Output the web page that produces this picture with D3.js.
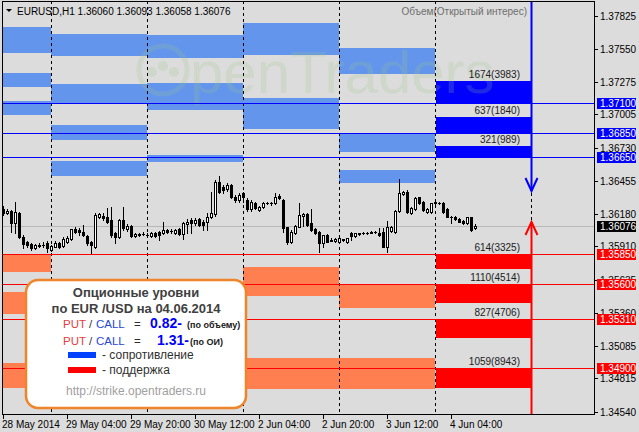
<!DOCTYPE html>
<html><head><meta charset="utf-8">
<script src="https://cdn.jsdelivr.net/npm/d3@7"></script>
<style>body{margin:0;background:#dcdcdc}svg{display:block}text{font-family:"Liberation Sans",Arial,sans-serif}</style>
</head><body><svg id="c" width="639" height="432"></svg>
<script>
// ---------------- DATA ----------------
const symbolTitle = "EURUSD,H1";
const headerOHLC = ["1.36060", "1.36093", "1.36058", "1.36076"];
const indicatorTitle = "Объем(Открытый интерес)";

const barOpen = [1.36218,1.36185,1.36204,1.36102,1.36190,1.35991,1.35949,1.35930,1.35894,1.35919,1.35919,1.35941,1.35880,1.35908,1.35941,1.35913,1.35949,1.35969,1.36052,1.36046,1.36033,1.35997,1.35949,1.35902,1.36157,1.36163,1.36157,1.36129,1.36019,1.35991,1.36129,1.36052,1.36080,1.35997,1.36013,1.36010,1.36008,1.35997,1.36019,1.36033,1.36024,1.36046,1.36041,1.36024,1.36052,1.36013,1.36096,1.36129,1.36102,1.36135,1.36116,1.36116,1.36157,1.36179,1.36448,1.36406,1.36384,1.36420,1.36323,1.36296,1.36357,1.36296,1.36218,1.36274,1.36213,1.36235,1.36274,1.36268,1.36268,1.36329,1.36296,1.36069,1.35949,1.36024,1.36074,1.36163,1.36179,1.36102,1.36052,1.36033,1.35941,1.36005,1.35963,1.35958,1.35949,1.35963,1.35949,1.36024,1.35997,1.36013,1.36019,1.36019,1.36024,1.36027,1.36024,1.36033,1.35908,1.36041,1.36033,1.36207,1.36346,1.36365,1.36185,1.36218,1.36318,1.36282,1.36199,1.36199,1.36274,1.36274,1.36268,1.36218,1.36157,1.36152,1.36135,1.36124,1.36102,1.36152,1.36060];
const barHigh = [1.36246,1.36218,1.36213,1.36276,1.36199,1.36005,1.35958,1.35941,1.35930,1.35936,1.35949,1.35952,1.35919,1.35955,1.35949,1.35991,1.35997,1.36057,1.36074,1.36060,1.36088,1.36005,1.35958,1.36185,1.36190,1.36185,1.36226,1.36240,1.36033,1.36135,1.36240,1.36096,1.36088,1.36024,1.36024,1.36033,1.36019,1.36033,1.36030,1.36041,1.36116,1.36057,1.36055,1.36055,1.36060,1.36116,1.36135,1.36143,1.36143,1.36143,1.36129,1.36190,1.36365,1.36462,1.36495,1.36420,1.36434,1.36429,1.36337,1.36351,1.36365,1.36310,1.36296,1.36282,1.36246,1.36282,1.36282,1.36276,1.36351,1.36346,1.36301,1.36074,1.36046,1.36088,1.36268,1.36190,1.36190,1.36218,1.36060,1.36041,1.36005,1.36013,1.35977,1.35977,1.35977,1.35974,1.35983,1.36033,1.36024,1.36024,1.36030,1.36030,1.36038,1.36038,1.36060,1.36060,1.36124,1.36080,1.36213,1.36467,1.36373,1.36379,1.36235,1.36318,1.36323,1.36290,1.36226,1.36274,1.36282,1.36282,1.36276,1.36226,1.36163,1.36163,1.36143,1.36129,1.36157,1.36157,1.36093];
const barLow = [1.36171,1.36177,1.36033,1.36019,1.35977,1.35894,1.35908,1.35880,1.35886,1.35902,1.35908,1.35866,1.35872,1.35902,1.35897,1.35908,1.35941,1.35963,1.36024,1.36005,1.35997,1.35922,1.35852,1.35894,1.36143,1.36129,1.36102,1.35991,1.35941,1.35977,1.36046,1.36041,1.35991,1.35991,1.35997,1.36002,1.35991,1.35991,1.35991,1.35963,1.36013,1.36019,1.36019,1.36013,1.36002,1.35969,1.36019,1.36019,1.36088,1.36080,1.36046,1.36046,1.36143,1.36163,1.36351,1.36351,1.36373,1.36310,1.36282,1.36282,1.36282,1.36207,1.36207,1.36218,1.36207,1.36226,1.36262,1.36254,1.36262,1.36301,1.36033,1.35930,1.35941,1.36013,1.36069,1.36080,1.36080,1.36038,1.36013,1.35866,1.35908,1.35949,1.35952,1.35949,1.35941,1.35955,1.35941,1.35963,1.35991,1.36005,1.36010,1.36013,1.36019,1.36019,1.35997,1.35902,1.35866,1.36030,1.36024,1.36199,1.36337,1.36190,1.36177,1.36213,1.36262,1.36207,1.36190,1.36190,1.36262,1.36260,1.36190,1.36152,1.36107,1.36129,1.36110,1.36096,1.36096,1.36041,1.36058];
const barClose = [1.36185,1.36207,1.36102,1.36199,1.35991,1.35930,1.35922,1.35900,1.35922,1.35913,1.35925,1.35894,1.35911,1.35941,1.35902,1.35974,1.35977,1.36052,1.36033,1.36030,1.36005,1.35936,1.35922,1.36171,1.36179,1.36143,1.36116,1.36005,1.35991,1.36129,1.36060,1.36080,1.35997,1.36013,1.36005,1.36013,1.36002,1.36019,1.35997,1.36005,1.36046,1.36027,1.36035,1.36046,1.36010,1.36102,1.36116,1.36102,1.36129,1.36088,1.36088,1.36157,1.36185,1.36448,1.36365,1.36379,1.36420,1.36323,1.36296,1.36337,1.36323,1.36218,1.36282,1.36226,1.36240,1.36274,1.36268,1.36274,1.36318,1.36310,1.36060,1.35949,1.36033,1.36080,1.36171,1.36179,1.36088,1.36046,1.36019,1.35941,1.36005,1.35949,1.35958,1.35969,1.35977,1.35969,1.35977,1.35997,1.36019,1.36019,1.36024,1.36024,1.36033,1.36033,1.36005,1.35908,1.36074,1.36069,1.36207,1.36351,1.36365,1.36199,1.36226,1.36310,1.36268,1.36213,1.36218,1.36268,1.36276,1.36268,1.36199,1.36157,1.36152,1.36135,1.36116,1.36102,1.36152,1.36046,1.36076];

const timeTickBars = [0, 16, 32, 48, 64, 80, 96, 112];
const timeTickLabels = ["28 May 2014", "29 May 04:00", "29 May 20:00", "30 May 12:00", "2 Jun 04:00", "2 Jun 20:00", "3 Jun 12:00", "4 Jun 04:00"];
const dayStartBars = [0, 12, 36, 60, 84, 108];
const dayEndBars = [12, 36, 60, 84, 108, 132];
const daySeparatorBars = [12, 36, 60, 84, 108, 132];

const priceTicks = [1.37825, 1.37550, 1.37275, 1.37005, 1.36730, 1.36455, 1.36180, 1.35910, 1.35635, 1.35360, 1.35085, 1.34815, 1.34540];
const currentPrice = 1.36076;

// option levels for the current day
const resistanceStrikes = [1.37100, 1.36850, 1.36650];
const resistanceTops = [1.37280, 1.36985, 1.36745];
const resistanceLabels = ["1674(3983)", "637(1840)", "321(989)"];
const supportStrikes = [1.35850, 1.35600, 1.35310, 1.34900];
const supportBottoms = [1.35720, 1.35443, 1.35147, 1.34732];
const supportLabels = ["614(3325)", "1110(4514)", "827(4706)", "1059(8943)"];

// previous days' zones: [dayIndex, low, high]
const pastResistance = [[0,1.37518,1.37734],[0,1.37236,1.37352],[0,1.37003,1.37120],
  [1,1.37490,1.37673],[1,1.37103,1.37258],[1,1.36793,1.36918],[1,1.36497,1.36619],
  [2,1.37471,1.37665],[2,1.37042,1.37269],[2,1.36613,1.36669],
  [3,1.37499,1.37767],[3,1.36885,1.37142],
  [4,1.37341,1.37557],[4,1.36694,1.36851],[4,1.36436,1.36544]];
const pastSupport = [[0,1.35695,1.35839],[0,1.35347,1.35534],[0,1.34732,1.34945],
  [3,1.35498,1.35739],[3,1.34727,1.34984],
  [4,1.35399,1.35598],[4,1.34727,1.34984]];

const arrowBar = 132;
const resistanceArrowTip = 1.36370;
const supportArrowTip = 1.36112;

const legendTitle = ["Опционные уровни", "по EUR /USD на 04.06.2014"];
const ratioValues = ["0.82-", "1.31-"];
const ratioNotes = ["(по объему)", "(по ОИ)"];
const legendItems = ["- сопротивление", "- поддержка"];
const legendUrl = "http://strike.opentraders.ru";

// ---------------- DRAW ----------------
const W = 639, H = 432;
const plot = {l: 2, r: 594, t: 1, b: 414};
const svg = d3.select("#c");
const x = d3.scaleLinear().domain([0, 1]).range([3, 7]);
const y = d3.scaleLinear().domain([1.34540, 1.37825]).range([411.5, 15.7]);
const yr = v => Math.round(y(v));

svg.append("rect").attr("width", W).attr("height", H).attr("fill", "#dcdcdc");
const defs = svg.append("defs");
defs.append("clipPath").attr("id", "pc").append("rect")
  .attr("x", plot.l).attr("y", plot.t).attr("width", plot.r - plot.l).attr("height", plot.b - plot.t);
const g = svg.append("g").attr("clip-path", "url(#pc)");

// past zones
g.selectAll(".pr").data(pastResistance).join("rect")
  .attr("x", d => x(dayStartBars[d[0]])).attr("width", d => x(dayEndBars[d[0]]) - x(dayStartBars[d[0]]))
  .attr("y", d => yr(d[2])).attr("height", d => yr(d[1]) - yr(d[2])).attr("fill", "#6495ed");
g.selectAll(".ps").data(pastSupport).join("rect")
  .attr("x", d => x(dayStartBars[d[0]])).attr("width", d => x(dayEndBars[d[0]]) - x(dayStartBars[d[0]]))
  .attr("y", d => yr(d[2])).attr("height", d => yr(d[1]) - yr(d[2])).attr("fill", "#ff7f50");

// current day zones
const cx0 = x(dayStartBars[5]) + 1, cx1 = x(dayEndBars[5]);
g.selectAll(".cr").data(resistanceStrikes).join("rect")
  .attr("x", cx0).attr("width", cx1 - cx0)
  .attr("y", (d, i) => yr(resistanceTops[i])).attr("height", (d, i) => yr(d) - yr(resistanceTops[i]))
  .attr("fill", "#0000ff");
g.selectAll(".cs").data(supportStrikes).join("rect")
  .attr("x", cx0).attr("width", cx1 - cx0)
  .attr("y", d => yr(d)).attr("height", (d, i) => yr(supportBottoms[i]) - yr(d))
  .attr("fill", "#ff0000");

// watermark logo (very faint)
const wm = g.append("g").attr("opacity", 0.2).attr("fill", "#9cc884");
wm.append("circle").attr("cx", 163).attr("cy", 70).attr("r", 24).attr("fill", "none").attr("stroke", "#9cc884").attr("stroke-width", 5);
[[152, 72], [163, 66], [174, 72]].forEach(p => wm.append("circle").attr("cx", p[0]).attr("cy", p[1]).attr("r", 5));
wm.append("text").attr("x", 190).attr("y", 93).attr("font-size", 60).text("penTraders");

// day separators
g.selectAll(".sep").data(daySeparatorBars).join("line")
  .attr("x1", d => x(d) + 0.5).attr("x2", d => x(d) + 0.5).attr("y1", plot.t).attr("y2", plot.b)
  .attr("stroke", "#000").attr("stroke-dasharray", "3,3");

// horizontal level lines
g.append("line").attr("x1", plot.l).attr("x2", plot.r).attr("y1", yr(currentPrice) + 0.5).attr("y2", yr(currentPrice) + 0.5).attr("stroke", "#b8b8b8");
g.selectAll(".rl").data(resistanceStrikes).join("line")
  .attr("x1", plot.l).attr("x2", plot.r).attr("y1", d => yr(d) + 0.5).attr("y2", d => yr(d) + 0.5).attr("stroke", "#0000ff");
g.selectAll(".sl").data(supportStrikes).join("line")
  .attr("x1", plot.l).attr("x2", plot.r).attr("y1", d => yr(d) + 0.5).attr("y2", d => yr(d) + 0.5).attr("stroke", "#ff0000");

// candles
const idx = d3.range(barOpen.length);
const cg = g.append("g");
idx.forEach(i => {
  const px = Math.round(x(i));
  const o = barOpen[i], c = barClose[i];
  cg.append("line").attr("x1", px + 0.5).attr("x2", px + 0.5)
    .attr("y1", yr(barHigh[i])).attr("y2", yr(barLow[i]) + 1).attr("stroke", "#000");
  const top = yr(Math.max(o, c)), bot = yr(Math.min(o, c));
  if (c > o && bot - top >= 2) {
    cg.append("rect").attr("x", px - 0.5).attr("y", top + 0.5).attr("width", 2).attr("height", bot - top)
      .attr("fill", "#fff").attr("stroke", "#000");
  } else {
    cg.append("rect").attr("x", px - 1).attr("y", top).attr("width", 3).attr("height", Math.max(bot - top + 1, 1)).attr("fill", "#000");
  }
});

// level labels
const lab = g.append("g").attr("font-size", 10).attr("fill", "#202020").attr("text-anchor", "end");
resistanceLabels.forEach((t, i) => lab.append("text").attr("x", 520).attr("y", yr(resistanceTops[i]) - 3).text(t));
supportLabels.forEach((t, i) => lab.append("text").attr("x", 520).attr("y", yr(supportStrikes[i]) - 3).text(t));

// arrows
const ax = x(arrowBar) + 0.5;
const by = yr(resistanceArrowTip);
g.append("line").attr("x1", ax).attr("x2", ax).attr("y1", plot.t).attr("y2", by).attr("stroke", "#0000ff").attr("stroke-width", 2);
g.append("path").attr("d", `M${ax - 6},${by - 13}L${ax},${by}L${ax + 6},${by - 13}`).attr("fill", "none").attr("stroke", "#0000ff").attr("stroke-width", 2);
const ry = yr(supportArrowTip);
g.append("line").attr("x1", ax).attr("x2", ax).attr("y1", ry).attr("y2", plot.b).attr("stroke", "#ff0000").attr("stroke-width", 2);
g.append("path").attr("d", `M${ax - 6},${ry + 13}L${ax},${ry}L${ax + 6},${ry + 13}`).attr("fill", "none").attr("stroke", "#ff0000").attr("stroke-width", 2);

// header
svg.append("path").attr("d", "M6,9L12,9L9,12Z").attr("fill", "#000");
svg.append("text").attr("x", 17).attr("y", 15).attr("font-size", 10).attr("fill", "#000")
  .text(symbolTitle + "  " + headerOHLC.join(" "));
svg.append("text").attr("x", 527).attr("y", 15).attr("font-size", 10).attr("fill", "#6e6e6e").attr("text-anchor", "end").text(indicatorTitle);

// frame
svg.append("rect").attr("x", plot.l + 0.5).attr("y", plot.t + 0.5).attr("width", plot.r - plot.l).attr("height", plot.b - plot.t)
  .attr("fill", "none").attr("stroke", "#000");

// price axis (marker labels drawn on top, partly hiding nearby ticks as in the original)
const pa = svg.append("g").attr("font-size", 10);
priceTicks.forEach(p => {
  pa.append("line").attr("x1", plot.r + 0.5).attr("x2", plot.r + 4).attr("y1", yr(p) + 0.5).attr("y2", yr(p) + 0.5).attr("stroke", "#000");
  pa.append("text").attr("x", 600).attr("y", yr(p) + 4).attr("fill", "#000").text(p.toFixed(5));
});
function hl(p, col) {
  pa.append("rect").attr("x", 597).attr("y", yr(p) - 5).attr("width", 39).attr("height", 11).attr("fill", col);
  pa.append("text").attr("x", 600).attr("y", yr(p) + 4).attr("fill", "#fff").text(p.toFixed(5));
}
resistanceStrikes.forEach(p => hl(p, "#0000ff"));
hl(currentPrice, "#000");
supportStrikes.forEach(p => hl(p, "#ff0000"));

// time axis
const ta = svg.append("g").attr("font-size", 10);
timeTickBars.forEach((b, i) => {
  ta.append("line").attr("x1", x(b) + 0.5).attr("x2", x(b) + 0.5).attr("y1", plot.b).attr("y2", plot.b + 5).attr("stroke", "#000");
  ta.append("text").attr("x", x(b) - 1).attr("y", 428).attr("fill", "#000").text(timeTickLabels[i]);
});

// legend
const lg = svg.append("g");
lg.append("rect").attr("x", 26).attr("y", 280).attr("width", 220).attr("height", 128).attr("rx", 12)
  .attr("fill", "#fff").attr("stroke", "#f08428").attr("stroke-width", 2.5);
lg.append("text").attr("x", 136).attr("y", 297).attr("text-anchor", "middle").attr("font-size", 13).attr("font-weight", "bold").attr("fill", "#404040").text(legendTitle[0]);
lg.append("text").attr("x", 136).attr("y", 313).attr("text-anchor", "middle").attr("font-size", 13).attr("font-weight", "bold").attr("fill", "#404040").text(legendTitle[1]);
[328, 345].forEach((yy, k) => {
  const t = lg.append("text").attr("y", yy).attr("font-size", 11.5);
  t.append("tspan").attr("x", 63).attr("fill", "#e43c3c").text("PUT");
  t.append("tspan").attr("x", 89).attr("fill", "#303030").text("/");
  t.append("tspan").attr("x", 96).attr("fill", "#2848d8").text("CALL");
  t.append("tspan").attr("x", 134).attr("fill", "#303030").text("=");
  t.append("tspan").attr("x", k === 0 ? 150 : 157).attr("fill", "#0000ff").attr("font-weight", "bold").attr("font-size", 14).text(ratioValues[k]);
  t.append("tspan").attr("x", k === 0 ? 187 : 190).attr("fill", "#202020").attr("font-weight", "bold").attr("font-size", 9).text(ratioNotes[k]);
});
lg.append("rect").attr("x", 68).attr("y", 352).attr("width", 28).attr("height", 6).attr("fill", "#0040ff");
lg.append("rect").attr("x", 68).attr("y", 367).attr("width", 28).attr("height", 6).attr("fill", "#ff0000");
lg.append("text").attr("x", 102).attr("y", 359).attr("font-size", 12).attr("fill", "#303030").text(legendItems[0]);
lg.append("text").attr("x", 102).attr("y", 374).attr("font-size", 12).attr("fill", "#303030").text(legendItems[1]);
lg.append("text").attr("x", 136).attr("y", 395).attr("text-anchor", "middle").attr("font-size", 12).attr("fill", "#a0a0a0").text(legendUrl);
</script></body></html>
